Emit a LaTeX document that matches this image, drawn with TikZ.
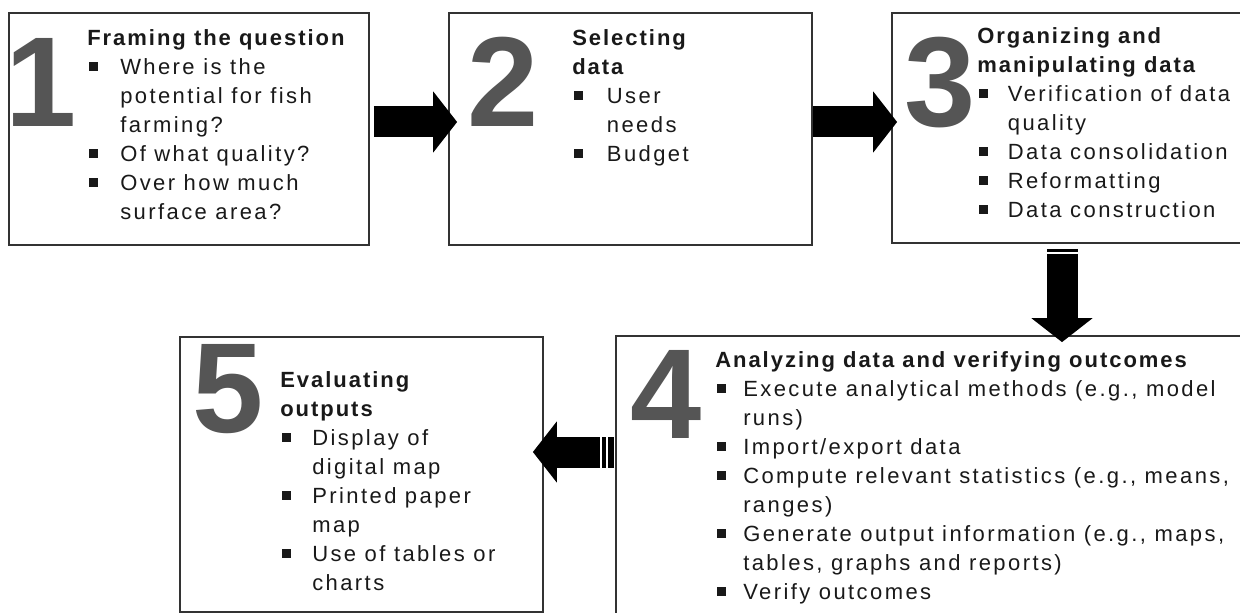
\documentclass[tikz,border=0pt]{standalone}
\usepackage{fontspec}
\setmainfont[LetterSpace=11, BoldFeatures={LetterSpace=9}]{Liberation Sans}
\usepackage{xcolor}
\usetikzlibrary{arrows.meta,positioning,calc,fit}

\definecolor{numgray}{HTML}{555555}
\definecolor{framegray}{HTML}{333333}

% heading line, bullet square and hanging indent for the step lists
\newcommand{\hd}[1]{\rule{0pt}{14pt}{\bfseries #1}}
\newcommand{\bul}[1]{\makebox[#1][l]{\hspace*{1.5pt}\rule[2.5pt]{6.5pt}{6.5pt}}}
\newcommand{\ind}[1]{\hspace*{#1}}

\begin{document}
\begin{tikzpicture}[
  x=0.75pt, y=-0.75pt,
  stagebox/.style={draw=framegray, line width=1.3pt, inner sep=0pt, fill=white},
  stagenum/.style={anchor=base, inner sep=0pt, text=numgray, font=\fontsize{96}{96}\selectfont\bfseries},
  stagetext/.style={anchor=north west, inner sep=0pt, align=left, text=black!90, font=\fontsize{16.5}{21.75}\selectfont},
  blockarrow/.style={line width=23.25pt, -{Triangle[length=18pt,width=45pt]}},
  stripe/.style={white, line width=1pt}
]
\useasboundingbox (0,0) rectangle (1240,613);
\fill[white] (0,0) rectangle (1240,613);
\clip (0,0) rectangle (1240,613);

% boxes
\node[stagebox, fit={(9,13) (369,245)}] (b1) {};
\node[stagebox, fit={(449,13) (812,245)}] (b2) {};
\node[stagebox, fit={(892,13) (1262,243)}] (b3) {};
\node[stagebox, fit={(616,336) (1262,630)}] (b4) {};
\node[stagebox, fit={(180,337) (543,612)}] (b5) {};

% big step numbers
\node[stagenum] (n1) at (41,127) {1};
\node[stagenum] (n2) at (503,127) {2};
\node[stagenum] (n3) at (940,127) {3};
\node[stagenum] (n4) at (666,438) {4};
\node[stagenum] (n5) at (228,432) {5};

% step texts
\node[stagetext] (t1) at (87,26.3) {\hd{Framing the question}\\
  \bul{24.75pt}Where is the\\ \ind{24.75pt}potential for fish\\ \ind{24.75pt}farming?\\
  \bul{24.75pt}Of what quality?\\
  \bul{24.75pt}Over how much\\ \ind{24.75pt}surface area?};
\node[stagetext] (t2) at (572,26.3) {\hd{Selecting}\\ {\bfseries data}\\
  \bul{26pt}User\\ \ind{26pt}needs\\
  \bul{26pt}Budget};
\node[stagetext] (t3) at (977,24.3) {\hd{Organizing and}\\ {\bfseries manipulating data}\\
  \bul{23pt}Verification of data\\ \ind{23pt}quality\\
  \bul{23pt}Data consolidation\\
  \bul{23pt}Reformatting\\
  \bul{23pt}Data construction};
\node[stagetext] (t4) at (715,348.3) {\hd{Analyzing data and verifying outcomes}\\
  \bul{21pt}Execute analytical methods (e.g., model\\ \ind{21pt}runs)\\
  \bul{21pt}Import/export data\\
  \bul{21pt}Compute relevant statistics (e.g., means,\\ \ind{21pt}ranges)\\
  \bul{21pt}Generate output information (e.g., maps,\\ \ind{21pt}tables, graphs and reports)\\
  \bul{21pt}Verify outcomes};
\node[stagetext] (t5) at (280,368.3) {\hd{Evaluating}\\ {\bfseries outputs}\\
  \bul{24pt}Display of\\ \ind{24pt}digital map\\
  \bul{24pt}Printed paper\\ \ind{24pt}map\\
  \bul{24pt}Use of tables or\\ \ind{24pt}charts};

% flow arrows
\draw[blockarrow] ($(b1.east)+(4,-7)$) -- ($(b2.west)+(9,-7)$);
\draw[blockarrow] ($(b2.east)+(0,-7)$) -- ($(b3.west)+(6,-6)$);
\coordinate (dtop) at ($(b3.south)+(-15,5)$);
\draw[blockarrow] (dtop) -- ($(dtop |- b4.north)+(0,7)$);
\draw[stripe] ($(dtop)+(-16,4)$) -- ++(32,0);
\coordinate (ltail) at ($(b4.west)+(-1,-31)$);
\draw[blockarrow] (ltail) -- ($(ltail -| b5.east)+(-11,0)$);
\draw[stripe] ($(ltail)+(-7,-16)$) -- ++(0,32);
\draw[stripe] ($(ltail)+(-13,-16)$) -- ++(0,32);
\end{tikzpicture}
\end{document}
